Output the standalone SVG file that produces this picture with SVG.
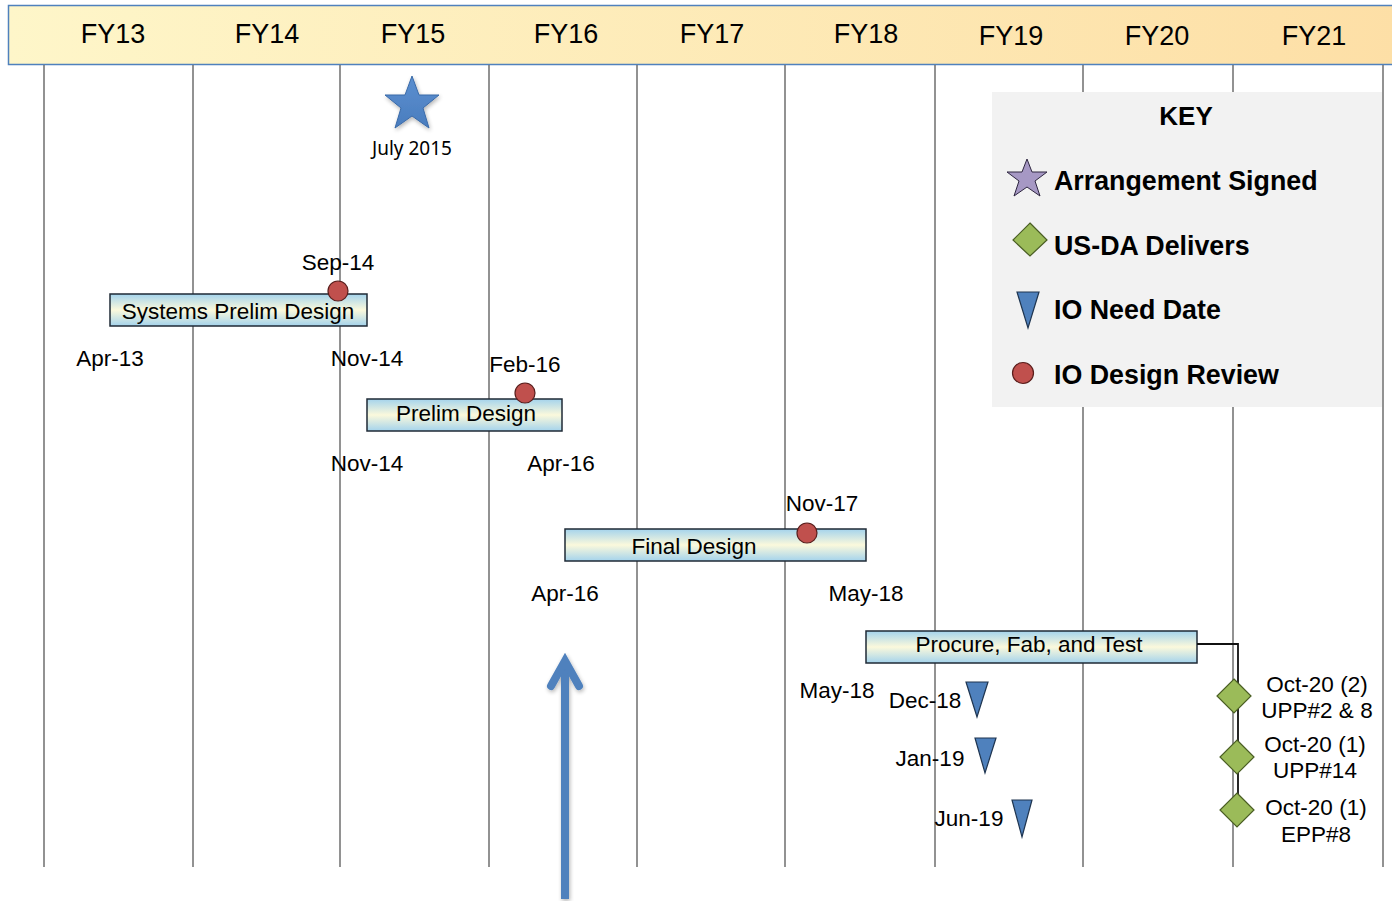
<svg xmlns="http://www.w3.org/2000/svg" width="1392" height="901" viewBox="0 0 1392 901">
<defs>
<linearGradient id="hdr" x1="0" y1="0" x2="1" y2="0">
<stop offset="0" stop-color="#FEF6C9"/>
<stop offset="1" stop-color="#FDDFA6"/>
</linearGradient>
<linearGradient id="bar" x1="0" y1="0" x2="0" y2="1">
<stop offset="0" stop-color="#A4D3EC"/>
<stop offset="0.5" stop-color="#FBF9DC"/>
<stop offset="1" stop-color="#A4D3EC"/>
</linearGradient>
<linearGradient id="star" x1="0" y1="0" x2="0" y2="1">
<stop offset="0" stop-color="#5B8FD0"/>
<stop offset="1" stop-color="#4A7DBE"/>
</linearGradient>
<filter id="sh" x="-50%" y="-10%" width="200%" height="120%">
<feGaussianBlur in="SourceAlpha" stdDeviation="2"/>
<feOffset dx="1" dy="2"/>
<feComponentTransfer><feFuncA type="linear" slope="0.3"/></feComponentTransfer>
<feMerge><feMergeNode/><feMergeNode in="SourceGraphic"/></feMerge>
</filter>
</defs>
<style>
text{font-family:"Liberation Sans",Arial,sans-serif;fill:#000}
.fy{font-size:27px;text-anchor:middle}
.lbl{font-size:22.5px;text-anchor:middle}
.bt{font-size:22.5px;text-anchor:middle}
.key{font-size:26.8px;font-weight:bold}
.grid{stroke:#6E6E6E;stroke-width:1.5}
.barr{fill:url(#bar);stroke:#1F2A36;stroke-width:1.5}
.dot{fill:#C0504D;stroke:#5A1E1C;stroke-width:1.2}
.tri{fill:#4F81BD;stroke:#1F3550;stroke-width:1.2}
.dia{fill:#9BBB59;stroke:#4A5E24;stroke-width:1.2}
</style>
<rect width="1392" height="901" fill="#FFFFFF"/>
<g id="header">
<rect x="8.5" y="5.5" width="1390" height="59" fill="url(#hdr)" stroke="#4F81BD" stroke-width="1.5"/>
<text class="fy" x="113" y="43">FY13</text>
<text class="fy" x="267" y="43">FY14</text>
<text class="fy" x="413" y="43">FY15</text>
<text class="fy" x="566" y="43">FY16</text>
<text class="fy" x="712" y="43">FY17</text>
<text class="fy" x="866" y="43">FY18</text>
<text class="fy" x="1011" y="45">FY19</text>
<text class="fy" x="1157" y="45">FY20</text>
<text class="fy" x="1314" y="45">FY21</text>
</g>
<g id="grid">
<line class="grid" x1="44" y1="65" x2="44" y2="867"/>
<line class="grid" x1="193" y1="65" x2="193" y2="867"/>
<line class="grid" x1="340" y1="65" x2="340" y2="867"/>
<line class="grid" x1="489" y1="65" x2="489" y2="867"/>
<line class="grid" x1="637" y1="65" x2="637" y2="867"/>
<line class="grid" x1="785" y1="65" x2="785" y2="867"/>
<line class="grid" x1="935" y1="65" x2="935" y2="867" stroke="#333"/>
<line class="grid" x1="1083" y1="65" x2="1083" y2="867" stroke="#333"/>
<line class="grid" x1="1233" y1="65" x2="1233" y2="867" stroke="#333"/>
<line class="grid" x1="1383" y1="65" x2="1383" y2="867" stroke="#333"/>
</g>
<g id="key">
<rect x="992" y="92" width="390" height="315" fill="#F2F2F2"/>
<text x="1186" y="125" font-size="26" font-weight="bold" text-anchor="middle">KEY</text>
<polygon points="1027,159 1032,172 1047,172 1035,181 1040,196 1027,187 1014,196 1019,181 1007,172 1022,172" fill="#A698C4" stroke="#2E2640" stroke-width="1"/>
<text class="key" x="1054" y="190">Arrangement Signed</text>
<polygon points="1030,223 1047,240 1030,256 1013,240" class="dia"/>
<text class="key" x="1054" y="255">US-DA Delivers</text>
<polygon points="1017,292 1039,292 1028,328" class="tri"/>
<text class="key" x="1054" y="319">IO Need Date</text>
<circle cx="1023" cy="373" r="10.5" class="dot"/>
<text class="key" x="1054" y="384">IO Design Review</text>
</g>
<g id="signed">
<polygon points="412,76 419,95 439,95 423,108 429,128 412,116 395,128 401,108 385,95 405,95" fill="url(#star)" stroke="#3A6AA8" stroke-width="1" filter="url(#sh)"/>
<text x="412" y="155" font-size="19" text-anchor="middle" style="font-family:'Noto Sans','Open Sans',sans-serif">July 2015</text>
</g>
<g id="bar1">
<rect class="barr" x="110" y="294" width="257" height="32"/>
<text class="bt" x="238" y="319">Systems Prelim Design</text>
<circle class="dot" cx="338" cy="291" r="10"/>
<text class="lbl" x="338" y="270">Sep-14</text>
<text class="lbl" x="110" y="366">Apr-13</text>
<text class="lbl" x="367" y="366">Nov-14</text>
</g>
<g id="bar2">
<rect class="barr" x="367" y="399" width="195" height="32"/>
<text class="bt" x="466" y="421">Prelim Design</text>
<circle class="dot" cx="525" cy="393" r="10"/>
<text class="lbl" x="525" y="372">Feb-16</text>
<text class="lbl" x="367" y="471">Nov-14</text>
<text class="lbl" x="561" y="471">Apr-16</text>
</g>
<g id="bar3">
<rect class="barr" x="565" y="529" width="301" height="32"/>
<text class="bt" x="694" y="554">Final Design</text>
<circle class="dot" cx="807" cy="533" r="10"/>
<text class="lbl" x="822" y="511">Nov-17</text>
<text class="lbl" x="565" y="601">Apr-16</text>
<text class="lbl" x="866" y="601">May-18</text>
</g>
<g id="bar4">
<rect class="barr" x="866" y="631" width="331" height="32"/>
<text class="bt" x="1029" y="652">Procure, Fab, and Test</text>
<text class="lbl" x="837" y="698">May-18</text>
</g>
<g id="connectors">
<polyline points="1197,644 1238,644 1238,800" fill="none" stroke="#111" stroke-width="1.8"/>
<g filter="url(#sh)">
<line x1="565" y1="899" x2="565" y2="664" stroke="#4F81BD" stroke-width="8"/>
<polyline points="551,686 565,661 579,686" fill="none" stroke="#4F81BD" stroke-width="8" stroke-linecap="round" stroke-linejoin="miter"/>
</g>
</g>
<g id="need-dates">
<polygon class="tri" points="966,682 988,682 977,717"/>
<text class="lbl" x="925" y="708">Dec-18</text>
<polygon class="tri" points="975,738 996,738 985,773"/>
<text class="lbl" x="930" y="766">Jan-19</text>
<polygon class="tri" points="1012,800 1032,800 1022,837"/>
<text class="lbl" x="969" y="826">Jun-19</text>
</g>
<g id="deliveries">
<polygon class="dia" points="1234,679 1251,696 1234,713 1217,696"/>
<polygon class="dia" points="1237,740 1254,757 1237,774 1220,757"/>
<polygon class="dia" points="1237,793 1254,810 1237,827 1220,810"/>
<text class="lbl" x="1317" y="692">Oct-20 (2)</text>
<text class="lbl" x="1317" y="718">UPP#2 &amp; 8</text>
<text class="lbl" x="1315" y="752">Oct-20 (1)</text>
<text class="lbl" x="1315" y="778">UPP#14</text>
<text class="lbl" x="1316" y="815">Oct-20 (1)</text>
<text class="lbl" x="1316" y="842">EPP#8</text>
</g>
</svg>
